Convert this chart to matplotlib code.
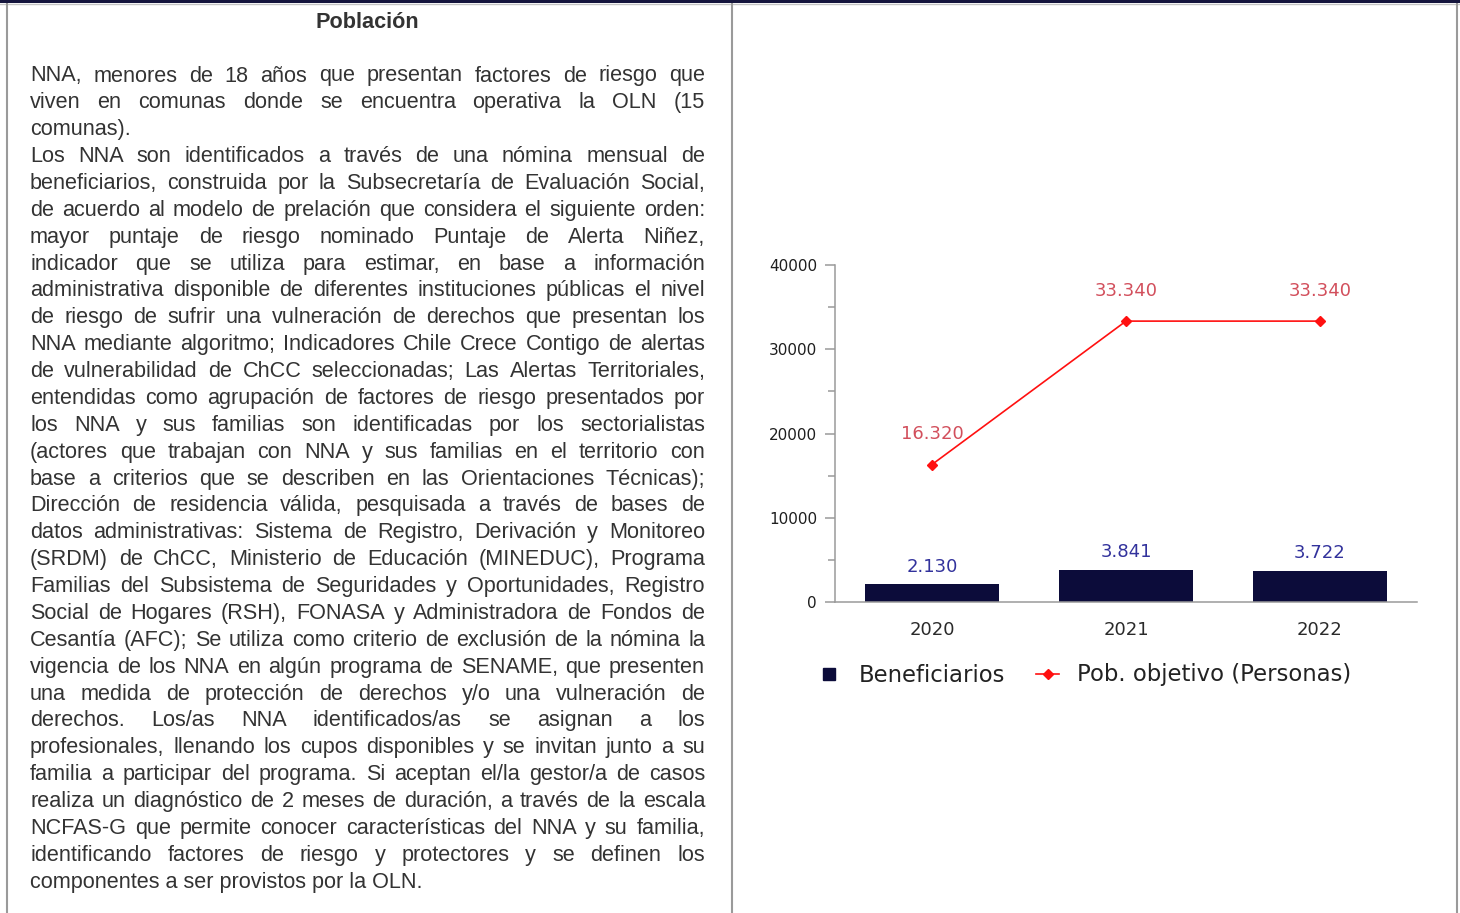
import matplotlib
matplotlib.use('Agg')
import matplotlib.pyplot as plt
from matplotlib.lines import Line2D
from matplotlib.ticker import MultipleLocator, FixedLocator

W, H = 1460, 913

# ── Data ─────────────────────────────────────────────────────────────────────
YEARS = ['2020', '2021', '2022']
BENEFICIARIOS = [2130, 3841, 3722]
POB_OBJETIVO = [16320, 33340, 33340]
Y_TICKS = [0, 10000, 20000, 30000, 40000]
LEGEND_LABELS = ['Beneficiarios', 'Pob. objetivo (Personas)']

TITLE = 'Población'
BODY_LINES = [
    'NNA, menores de 18 años que presentan factores de riesgo que',
    'viven en comunas donde se encuentra operativa la OLN (15',
    'comunas).',
    'Los NNA son identificados a través de una nómina mensual de',
    'beneficiarios, construida por la Subsecretaría de Evaluación Social,',
    'de acuerdo al modelo de prelación que considera el siguiente orden:',
    'mayor puntaje de riesgo nominado Puntaje de Alerta Niñez,',
    'indicador que se utiliza para estimar, en base a información',
    'administrativa disponible de diferentes instituciones públicas el nivel',
    'de riesgo de sufrir una vulneración de derechos que presentan los',
    'NNA mediante algoritmo; Indicadores Chile Crece Contigo de alertas',
    'de vulnerabilidad de ChCC seleccionadas; Las Alertas Territoriales,',
    'entendidas como agrupación de factores de riesgo presentados por',
    'los NNA y sus familias son identificadas por los sectorialistas',
    '(actores que trabajan con NNA y sus familias en el territorio con',
    'base a criterios que se describen en las Orientaciones Técnicas);',
    'Dirección de residencia válida, pesquisada a través de bases de',
    'datos administrativas: Sistema de Registro, Derivación y Monitoreo',
    '(SRDM) de ChCC, Ministerio de Educación (MINEDUC), Programa',
    'Familias del Subsistema de Seguridades y Oportunidades, Registro',
    'Social de Hogares (RSH), FONASA y Administradora de Fondos de',
    'Cesantía (AFC); Se utiliza como criterio de exclusión de la nómina la',
    'vigencia de los NNA en algún programa de SENAME, que presenten',
    'una medida de protección de derechos y/o una vulneración de',
    'derechos. Los/as NNA identificados/as se asignan a los',
    'profesionales, llenando los cupos disponibles y se invitan junto a su',
    'familia a participar del programa. Si aceptan el/la gestor/a de casos',
    'realiza un diagnóstico de 2 meses de duración, a través de la escala',
    'NCFAS-G que permite conocer características del NNA y su familia,',
    'identificando factores de riesgo y protectores y se definen los',
    'componentes a ser provistos por la OLN.',
]
PARAGRAPH_ENDS = {2, 30}   # lines that are not stretched

# ── Style ────────────────────────────────────────────────────────────────────
NAVY = '#0c0c3a'
RED = '#ff1010'
BORDER = '#9a9a9a'
TEXT = '#333333'
BODY_FONT = 'Liberation Sans'
BODY_SIZE = 15.6
TEXT_LEFT, TEXT_RIGHT = 30, 705
FIRST_BASELINE, LINE_STEP = 81.5, 26.87


def fmt_es(v):
    return f'{v:,}'.replace(',', '.')


def draw_table(bg):
    # navy rule on top, grey cell borders
    bg.fill_between([0, W], 0, 3.5, color='#15153d', lw=0)
    bg.plot([0, W], [4.5, 4.5], color='#c4c4c4', lw=1.0)
    for x in (7, 732, 1457):
        bg.plot([x, x], [3.5, H], color=BORDER, lw=1.5, solid_capstyle='butt')


def draw_body(bg, renderer):
    bg.text((TEXT_LEFT + TEXT_RIGHT) / 2, 28.5, TITLE, ha='center', va='baseline',
            family=BODY_FONT, fontsize=BODY_SIZE, weight='bold', color=TEXT)
    for i, line in enumerate(BODY_LINES):
        y = FIRST_BASELINE + i * LINE_STEP
        if i in PARAGRAPH_ENDS:
            bg.text(TEXT_LEFT, y, line, ha='left', va='baseline',
                    family=BODY_FONT, fontsize=BODY_SIZE, color=TEXT)
            continue
        words = line.split(' ')
        texts = [bg.text(0, y, w, ha='left', va='baseline', family=BODY_FONT,
                         fontsize=BODY_SIZE, color=TEXT) for w in words]
        widths = [t.get_window_extent(renderer).width for t in texts]
        gap = (TEXT_RIGHT - TEXT_LEFT - sum(widths)) / (len(words) - 1)
        x = TEXT_LEFT
        for t, w in zip(texts, widths):
            t.set_x(x)
            x += w + gap


def draw_chart(fig):
    ax = fig.add_axes([835 / W, 1 - 602 / H, (1417 - 835) / W, (602 - 265) / H])
    pos = range(len(YEARS))
    ax.bar(pos, BENEFICIARIOS, width=0.69, color=NAVY, zorder=2)
    ax.plot(pos, POB_OBJETIVO, color=RED, lw=1.2, marker='D', ms=4.8, zorder=3)

    for i, v in enumerate(BENEFICIARIOS):
        ax.annotate(fmt_es(v), (i, v), xytext=(0, 6), textcoords='offset points',
                    ha='center', va='bottom', fontsize=13, color='#32329c')
    for i, v in enumerate(POB_OBJETIVO):
        ax.annotate(fmt_es(v), (i, v), xytext=(0, 15.5), textcoords='offset points',
                    ha='center', va='bottom', fontsize=13, color='#d24f5c')

    ax.set_xlim(-0.5, 2.5)
    ax.set_ylim(0, 40000)
    ax.yaxis.set_major_locator(FixedLocator(Y_TICKS))
    ax.yaxis.set_minor_locator(MultipleLocator(5000))
    ax.set_xticks(list(pos), YEARS)
    ax.tick_params(axis='x', length=0, pad=14, labelsize=13, labelcolor='#2a2a2a')
    ax.tick_params(axis='y', which='major', length=7.5, width=1.1, color=BORDER,
                   pad=5.5, labelsize=11, labelcolor='#1e1e1e')
    ax.tick_params(axis='y', which='minor', length=5, width=1.1, color=BORDER)
    for side in ('top', 'right'):
        ax.spines[side].set_visible(False)
    for side in ('left', 'bottom'):
        ax.spines[side].set_color(BORDER)
        ax.spines[side].set_linewidth(1.1)
    ax.set_facecolor('none')

    handles = [
        Line2D([], [], marker='s', ls='none', color=NAVY, ms=9),
        Line2D([], [], color=RED, lw=1.2, marker='D', ms=4.8),
    ]
    ax.legend(handles, LEGEND_LABELS, loc='center left',
              bbox_to_anchor=(818 / W, 1 - 675 / H), bbox_transform=fig.transFigure,
              ncol=2, frameon=False, fontsize=16.4, handlelength=1.0,
              handletextpad=0.8, columnspacing=1.35, borderpad=0,
              borderaxespad=0, labelcolor='#222222')


if __name__ == '__main__':
    fig = plt.figure(figsize=(W / 100, H / 100), dpi=100)
    bg = fig.add_axes([0, 0, 1, 1])
    bg.set_xlim(0, W)
    bg.set_ylim(H, 0)
    bg.axis('off')

    renderer = fig.canvas.get_renderer()
    draw_table(bg)
    draw_body(bg, renderer)
    draw_chart(fig)

    fig.savefig('out.png', dpi=100, facecolor='white')
